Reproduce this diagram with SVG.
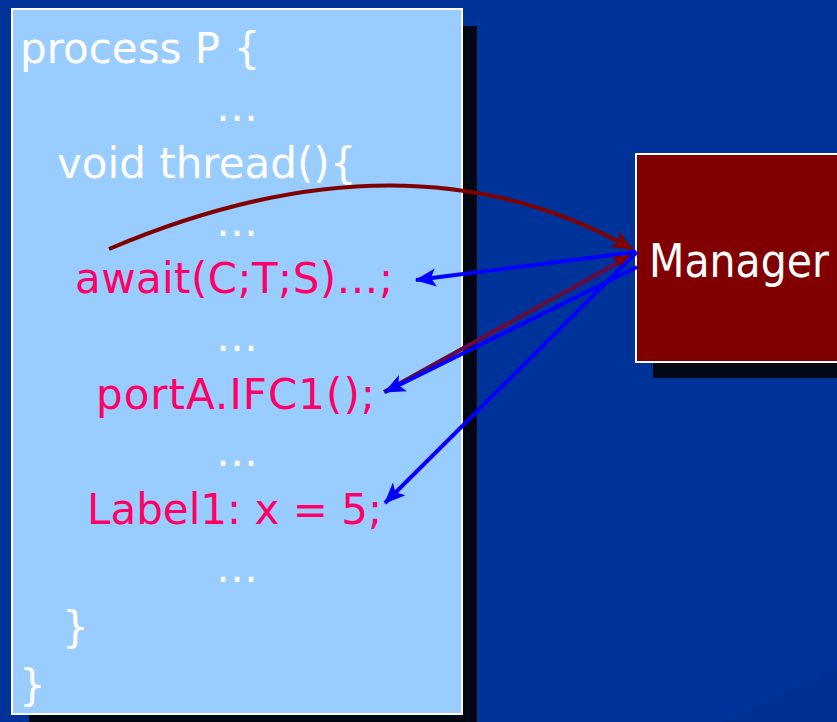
<svg xmlns="http://www.w3.org/2000/svg" width="837" height="722" viewBox="0 0 837 722">
  <defs>
    <style>
      .code { font-family: "DejaVu Sans", "Liberation Sans", sans-serif; font-size: 42px; fill: #ffffff; }
      .hot { fill: #ff0066; }
      .dots { text-anchor: middle; }
      .shadow { fill: #000814; }
      .link { fill: none; stroke-width: 4; }
      .red { stroke: #800000; }
      .plum { stroke: #6a0a3c; }
      .blue { stroke: #0000ff; }
    </style>
    <marker id="head-red" markerUnits="userSpaceOnUse" viewBox="-24 -12 26 24" markerWidth="26" markerHeight="24" refX="0" refY="0" orient="auto">
      <path d="M1,0 L-20,-9 L-15,0 L-20,9 Z" fill="#800000"/>
    </marker>
    <marker id="head-blue" markerUnits="userSpaceOnUse" viewBox="-24 -12 26 24" markerWidth="26" markerHeight="24" refX="0" refY="0" orient="auto">
      <path d="M1,0 L-20,-9 L-15,0 L-20,9 Z" fill="#0000ff"/>
    </marker>
  </defs>

  <!-- slide background -->
  <rect x="0" y="0" width="837" height="722" fill="#003399"/>
  <polygon points="720,722 837,668 837,722" fill="#003192"/>

  <!-- process P code listing -->
  <g id="process">
    <rect class="shadow" x="29" y="26" width="448" height="705"/>
    <rect x="12" y="9" width="450" height="705" fill="#99ccff" stroke="#ffffff" stroke-width="2"/>
    <text class="code" x="20" y="63">process P {</text>
    <text class="code dots" x="237" y="121">…</text>
    <text class="code" x="57" y="178">void thread(){</text>
    <text class="code dots" x="237" y="236">…</text>
    <text class="code hot" x="75" y="293" letter-spacing="0.4">await(C;T;S)…;</text>
    <text class="code dots" x="237" y="351">…</text>
    <text class="code hot" x="96" y="409" letter-spacing="1">portA.IFC1();</text>
    <text class="code dots" x="237" y="466">…</text>
    <text class="code hot" x="87" y="524">Label1: x = 5;</text>
    <text class="code dots" x="237" y="582">…</text>
    <text class="code" x="62" y="642">}</text>
    <text class="code" x="19" y="700">}</text>
  </g>

  <!-- Manager -->
  <g id="manager">
    <rect class="shadow" x="653" y="170" width="200" height="208"/>
    <rect x="636" y="154" width="210" height="208" fill="#800000" stroke="#ffffff" stroke-width="2"/>
    <text x="649" y="277" font-family="DejaVu Sans, Liberation Sans, sans-serif" font-size="46" fill="#ffffff" textLength="180" lengthAdjust="spacingAndGlyphs">Manager</text>
  </g>

  <!-- connectors -->
  <g id="connectors">
    <path class="link red" d="M109,249 Q408,122 632,249" marker-end="url(#head-red)"/>
    <path class="link plum" d="M384,392 L632,255" marker-end="url(#head-red)"/>
    <path class="link blue" d="M636,252 L416,280" marker-end="url(#head-blue)"/>
    <path class="link blue" d="M637,267 L385,392" marker-end="url(#head-blue)"/>
    <path class="link blue" d="M637,252 L385,503" marker-end="url(#head-blue)"/>
  </g>
</svg>
